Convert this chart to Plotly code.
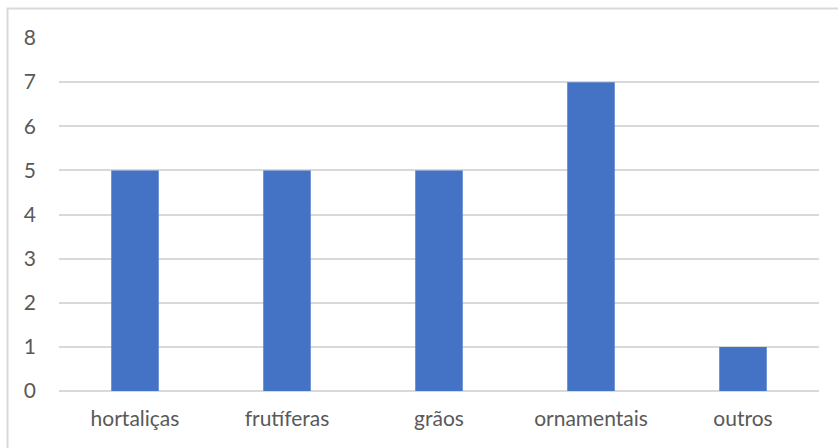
import plotly.graph_objects as go

categories = ["hortaliças", "frutíferas", "grãos", "ornamentais", "outros"]
values = [5, 5, 5, 7, 1]
y_ticks = [0, 1, 2, 3, 4, 5, 6, 7, 8]

W, H = 838, 448
L, R, T, B = 59, 19, 38, 57
pw, ph = W - L - R, H - T - B

fig = go.Figure(
    go.Bar(x=categories, y=values, marker=dict(color="#4472C4", line=dict(width=0)))
)

# chart-area border (top and left edges visible, the rest runs off the page)
bx = (7.5 - L) / pw
by = (H - B - 8.5) / ph
fig.add_shape(type="rect", xref="paper", yref="paper",
              x0=bx, x1=2, y0=-2, y1=by,
              line=dict(color="#D9D9D9", width=2), layer="below")

fig.update_layout(
    width=W, height=H,
    margin=dict(l=L, r=R, t=T, b=B),
    paper_bgcolor="white", plot_bgcolor="white",
    bargap=0.6875,
    showlegend=False,
    font=dict(family="Lato, 'Open Sans', sans-serif", size=21, color="#595959"),
)
fig.update_xaxes(showgrid=False, showline=False, zeroline=False,
                 ticks="", ticklabelstandoff=13,
                 tickfont=dict(size=21, color="#595959"))
fig.update_yaxes(range=[0, 8], tickvals=y_ticks, showgrid=True,
                 gridcolor="#D9D9D9", gridwidth=1.5,
                 zeroline=True, zerolinecolor="#D9D9D9", zerolinewidth=1.5,
                 showline=False, ticks="", ticklabelstandoff=22,
                 tickfont=dict(size=21, color="#595959"))

fig.write_html("out.html")
